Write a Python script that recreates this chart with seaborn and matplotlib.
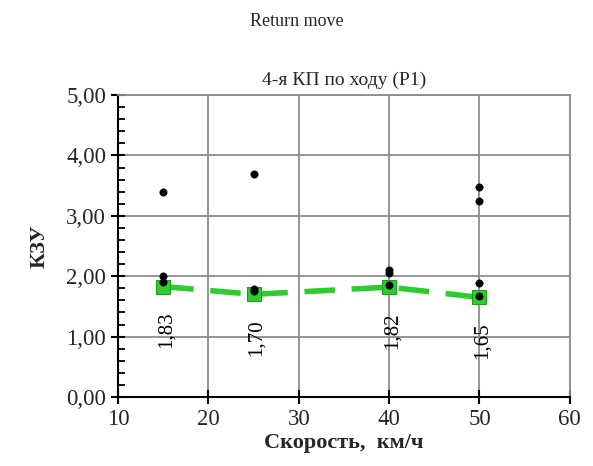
import matplotlib
matplotlib.use("Agg")
import matplotlib.pyplot as plt
import seaborn as sns
import pandas as pd
import numpy as np
from matplotlib.ticker import MultipleLocator, FuncFormatter

# Data
speed_points = [15, 15, 15, 25, 25, 25, 40, 40, 40, 50, 50, 50, 50]
kzu_points = [3.40, 2.00, 1.91, 3.69, 1.79, 1.75, 2.10, 2.06, 1.85, 3.48, 3.25, 1.88, 1.67]
speed_mean = [15, 25, 40, 50]
kzu_mean = [1.83, 1.70, 1.82, 1.65]
mean_labels = ["1,83", "1,70", "1,82", "1,65"]

sns.set_theme(style="white")
plt.rcParams['font.family'] = ['Liberation Serif', 'DejaVu Serif']

fig = plt.figure(figsize=(5.93, 4.66), dpi=100)
ax = fig.add_axes([0.199, 0.148, 0.762, 0.648])

pts = pd.DataFrame({"speed": speed_points, "kzu": kzu_points})
means = pd.DataFrame({"speed": speed_mean, "kzu": kzu_mean})

green = "#2ecc2e"
sns.lineplot(data=means, x="speed", y="kzu", ax=ax, color=green, linewidth=4,
             marker="s", markersize=10, markerfacecolor=green, markeredgecolor="#1aa01a",
             zorder=3)
ax.lines[-1].set_dashes([5.5, 3])
sns.scatterplot(data=pts, x="speed", y="kzu", ax=ax, color="black", s=28,
                edgecolor="black", zorder=4)

for x, y, lab in zip(speed_mean, kzu_mean, mean_labels):
    ax.annotate(lab, (x, y), xytext=(2, -18), textcoords="offset points",
                rotation=90, ha="center", va="top", fontsize=15, color="black")

ax.set_xlim(10, 60)
ax.set_ylim(0, 5)
ax.xaxis.set_major_locator(MultipleLocator(10))
ax.yaxis.set_major_locator(MultipleLocator(1))
ax.yaxis.set_minor_locator(MultipleLocator(0.2))
ax.yaxis.set_major_formatter(FuncFormatter(lambda v, p: f"{v:.2f}".replace(".", ",")))

ax.grid(True, which="major", color="#8c8c8c", linewidth=1.3)
ax.set_axisbelow(True)
for s in ["top", "right"]:
    ax.spines[s].set_color("#8c8c8c")
    ax.spines[s].set_linewidth(1.3)
for s in ["left", "bottom"]:
    ax.spines[s].set_color("black")
    ax.spines[s].set_linewidth(1.5)

ax.tick_params(axis="both", which="major", direction="inout", length=10, width=1.5,
               color="black", labelsize=16.5, bottom=True, left=True)
ax.tick_params(axis="y", which="minor", direction="in", length=5, width=1.3,
               color="black", left=True)

ax.set_xlabel("Скорость,  км/ч", fontsize=16, fontweight="bold", labelpad=2)
ax.set_ylabel("КЗУ", fontsize=16, fontweight="bold", labelpad=12)
ax.set_title("4-я КП по ходу (P1)", fontsize=14, pad=7)
fig.text(0.50, 0.953, "Return move", ha="center", va="center", fontsize=13)

fig.savefig("out.png", dpi=100)
